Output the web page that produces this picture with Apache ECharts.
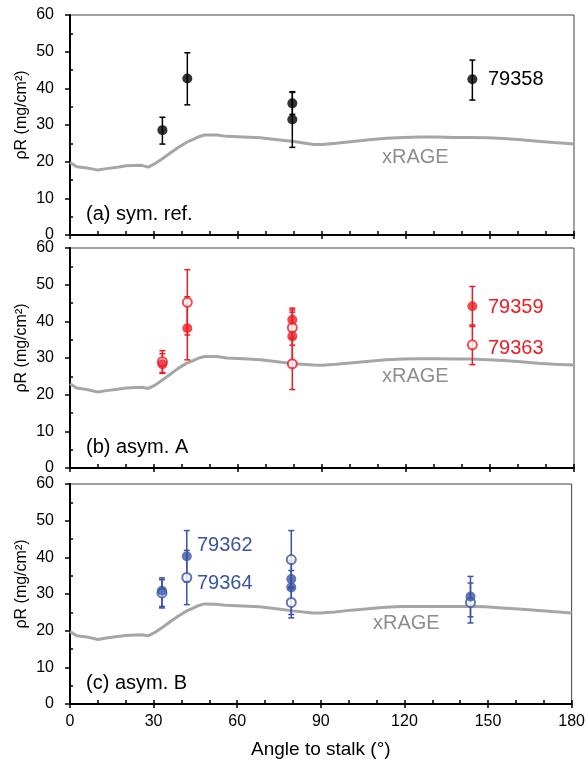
<!DOCTYPE html>
<html>
<head>
<meta charset="utf-8">
<script src="https://cdn.jsdelivr.net/npm/echarts@6/dist/echarts.min.js"></script>
<style>
  html, body { margin: 0; padding: 0; background: #fff; }
  #chart { width: 588px; height: 768px; }
</style>
</head>
<body>
<div id="chart"></div>
<script>
// ---- simulated areal density (xRAGE) ----
const simAngle = [0, 2.4, 6, 10, 13, 17, 20, 25.6, 28, 30.4, 33, 35.7, 38.5, 41.7, 44, 46, 48.2, 52.4, 56, 62, 68, 74, 80, 87, 90, 95, 101, 107, 113, 119, 125, 131, 137, 143, 149, 155, 161, 167, 173, 180];
const simRhoSym = [19.8, 18.6, 18.3, 17.7, 18.1, 18.5, 18.9, 19.0, 18.5, 19.5, 20.8, 22.3, 23.8, 25.3, 26.1, 26.8, 27.3, 27.3, 26.9, 26.7, 26.5, 26.0, 25.5, 24.7, 24.7, 25.0, 25.5, 26.0, 26.4, 26.6, 26.7, 26.7, 26.6, 26.6, 26.5, 26.3, 26.0, 25.6, 25.2, 24.8];
const simRhoA = [23.0, 21.8, 21.4, 20.7, 21.1, 21.5, 21.8, 22.0, 21.7, 22.6, 24.0, 25.5, 27.1, 28.6, 29.3, 30.0, 30.4, 30.4, 30.0, 29.8, 29.5, 29.0, 28.4, 28.1, 28.0, 28.3, 28.7, 29.1, 29.5, 29.7, 29.8, 29.8, 29.7, 29.7, 29.5, 29.3, 29.0, 28.6, 28.3, 28.1];
const simRhoB = [19.8, 18.6, 18.3, 17.6, 18.0, 18.4, 18.7, 18.9, 18.6, 19.5, 20.8, 22.3, 23.8, 25.3, 26.1, 26.8, 27.3, 27.2, 26.9, 26.7, 26.5, 26.0, 25.4, 24.8, 24.8, 25.1, 25.6, 26.0, 26.4, 26.6, 26.6, 26.6, 26.6, 26.6, 26.5, 26.2, 25.9, 25.6, 25.2, 24.8];

// ---- measured data: angle to stalk (deg), rhoR and error bounds (mg/cm^2) ----
const shotAngle = [33.0, 41.9, 79.4, 79.4, 143.7];

// (a) symmetric reference
const rho79358 = [28.6, 42.7, 35.9, 31.5, 42.5];
const lo79358  = [24.8, 35.5, 32.9, 23.9, 36.8];
const hi79358  = [32.1, 49.7, 38.9, 39.1, 47.7];

// (b) asymmetric A
const rho79359 = [28.3, 38.1, 40.4, 35.9, 44.1];
const lo79359  = [26.0, 29.5, 37.2, 29.3, 38.6];
const hi79359  = [31.2, 46.7, 43.6, 42.5, 49.5];
const rho79363 = [29.0, 45.2, 38.3, 28.4, 33.6];
const lo79363  = [25.8, 36.3, 33.5, 21.4, 28.2];
const hi79363  = [32.0, 54.1, 43.1, 35.4, 39.0];

// (c) asymmetric B
const rho79362 = [30.9, 40.3, 34.1, 31.8, 29.3];
const lo79362  = [26.6, 33.3, 31.8, 24.4, 23.8];
const hi79362  = [34.4, 47.3, 36.4, 39.2, 34.8];
const rho79364 = [30.3, 34.5, 39.4, 27.7, 27.7];
const lo79364  = [26.2, 27.1, 31.5, 23.5, 22.1];
const hi79364  = [33.9, 41.9, 47.3, 31.9, 33.0];

const xTicks = [0, 30, 60, 90, 120, 150, 180];
const yTicks = [0, 10, 20, 30, 40, 50, 60];

const FONT = "'Liberation Sans', Arial, sans-serif";
const BLACK = '#000000';
const RED = '#ec1c24';
const BLUE = '#3a54a4';
const SIM_LINE = '#a6a6a6';
const SIM_TEXT = '#8e8e8e';

const plotLeft = 70, plotWidth = 504, plotHeight = 220;
const panelTops = [15, 248, 484];

const pairs = (xs, ys) => xs.map((x, i) => [x, ys[i]]);
const triples = (xs, lo, hi) => xs.map((x, i) => [x, lo[i], hi[i]]);

function errorBars(color) {
  return function (params, api) {
    const x = api.value(0);
    const top = api.coord([x, api.value(2)]);
    const bot = api.coord([x, api.value(1)]);
    const cap = 3;
    const style = { stroke: color, lineWidth: 1.5 };
    return {
      type: 'group',
      children: [
        { type: 'line', shape: { x1: top[0], y1: top[1], x2: bot[0], y2: bot[1] }, style },
        { type: 'line', shape: { x1: top[0] - cap, y1: top[1], x2: top[0] + cap, y2: top[1] }, style },
        { type: 'line', shape: { x1: bot[0] - cap, y1: bot[1], x2: bot[0] + cap, y2: bot[1] }, style }
      ]
    };
  };
}

const grids = [], xAxes = [], yAxes = [], series = [];

panelTops.forEach((top, i) => {
  grids.push({
    left: plotLeft, top: top, width: plotWidth, height: plotHeight,
    show: true, borderColor: '#404040', borderWidth: 1, backgroundColor: 'transparent'
  });
  const last = i === panelTops.length - 1;
  // major x ticks (outside) with labels on the bottom panel
  xAxes.push({
    gridIndex: i, type: 'value', min: xTicks[0], max: xTicks[xTicks.length - 1], interval: xTicks[1] - xTicks[0],
    position: 'bottom',
    axisLine: { show: true, onZero: false, lineStyle: { color: BLACK, width: 2 } },
    axisTick: { show: true, length: 4, lineStyle: { color: BLACK, width: 1.5 } },
    axisLabel: { show: last, margin: 10, color: BLACK, fontSize: 16, fontFamily: FONT },
    splitLine: { show: false },
    name: last ? 'Angle to stalk (°)' : '',
    nameLocation: 'middle', nameGap: 36,
    nameTextStyle: { color: BLACK, fontSize: 19, fontFamily: FONT }
  });
  // inner x ticks every 10 degrees
  xAxes.push({
    gridIndex: i, type: 'value', min: 0, max: 180, interval: 10, position: 'bottom',
    axisLine: { show: false, onZero: false },
    axisTick: { show: true, inside: true, length: 4, lineStyle: { color: BLACK, width: 1.5 } },
    axisLabel: { show: false }, splitLine: { show: false }
  });
  // major y ticks (outside) with labels
  yAxes.push({
    gridIndex: i, type: 'value', min: yTicks[0], max: yTicks[yTicks.length - 1], interval: yTicks[1] - yTicks[0],
    position: 'left',
    axisLine: { show: true, onZero: false, lineStyle: { color: BLACK, width: 2 } },
    axisTick: { show: true, length: 5, lineStyle: { color: BLACK, width: 1.5 } },
    axisLabel: { show: true, margin: 16, color: BLACK, fontSize: 16, fontFamily: FONT },
    splitLine: { show: false }
  });
  // minor y ticks (inside) every 5
  yAxes.push({
    gridIndex: i, type: 'value', min: 0, max: 60, interval: 10, position: 'left',
    axisLine: { show: false, onZero: false },
    axisTick: { show: false, inside: true },
    minorTick: { show: true, splitNumber: 2, length: 3, lineStyle: { color: BLACK, width: 1.5 } },
    axisLabel: { show: false }, splitLine: { show: false }
  });
});

const simSets = [simRhoSym, simRhoA, simRhoB];
simSets.forEach((rho, i) => {
  series.push({
    type: 'line', xAxisIndex: 2 * i, yAxisIndex: 2 * i,
    data: pairs(simAngle, rho), showSymbol: false, symbol: 'none',
    lineStyle: { color: SIM_LINE, width: 3 }, silent: true, z: 2
  });
});

function addShot(panel, color, filled, rho, lo, hi) {
  series.push({
    type: 'custom', xAxisIndex: 2 * panel, yAxisIndex: 2 * panel,
    data: triples(shotAngle, lo, hi), encode: { x: 0, y: [1, 2] },
    renderItem: errorBars(color), z: 3, silent: true
  });
  series.push({
    type: 'scatter', xAxisIndex: 2 * panel, yAxisIndex: 2 * panel,
    data: pairs(shotAngle, rho),
    symbol: filled ? 'circle' : 'emptyCircle', symbolSize: filled ? 10 : 9,
    itemStyle: filled ? { color: color } : { color: color, borderColor: color, borderWidth: 2.2 },
    z: filled ? 5 : 4, silent: true
  });
}

addShot(0, BLACK, true, rho79358, lo79358, hi79358);
addShot(1, RED, false, rho79363, lo79363, hi79363);
addShot(1, RED, true, rho79359, lo79359, hi79359);
addShot(2, BLUE, false, rho79364, lo79364, hi79364);
addShot(2, BLUE, true, rho79362, lo79362, hi79362);

function label(text, x, y, color, size) {
  return {
    type: 'text', x: x, y: y, silent: true, z: 100,
    style: { text: text, fill: color, font: size + 'px ' + FONT, align: 'left', verticalAlign: 'middle' }
  };
}

const graphics = [];
const panelNames = ['(a) sym. ref.', '(b) asym. A', '(c) asym. B'];
panelTops.forEach((top, i) => {
  graphics.push({
    type: 'text', x: 22, y: top + plotHeight / 2 - 10, rotation: Math.PI / 2, silent: true, z: 100,
    style: { text: 'ρR (mg/cm²)', fill: BLACK, font: '16px ' + FONT, align: 'center', verticalAlign: 'middle' }
  });
  graphics.push(label(panelNames[i], 86, top + plotHeight - 21, BLACK, 20));
});
graphics.push(label('xRAGE', 382, 157, SIM_TEXT, 20));
graphics.push(label('xRAGE', 382, 376, SIM_TEXT, 20));
graphics.push(label('xRAGE', 373, 623, SIM_TEXT, 20));
graphics.push(label('79358', 488, 79, BLACK, 20));
graphics.push(label('79359', 488, 307, RED, 20));
graphics.push(label('79363', 488, 348, RED, 20));
graphics.push(label('79362', 197, 545, BLUE, 20));
graphics.push(label('79364', 197, 583, BLUE, 20));

const chart = echarts.init(document.getElementById('chart'), null, { renderer: 'canvas', width: 588, height: 768 });
chart.setOption({
  animation: false,
  backgroundColor: '#ffffff',
  textStyle: { fontFamily: FONT },
  grid: grids,
  xAxis: xAxes,
  yAxis: yAxes,
  series: series,
  graphic: graphics
});
</script>
</body>
</html>
